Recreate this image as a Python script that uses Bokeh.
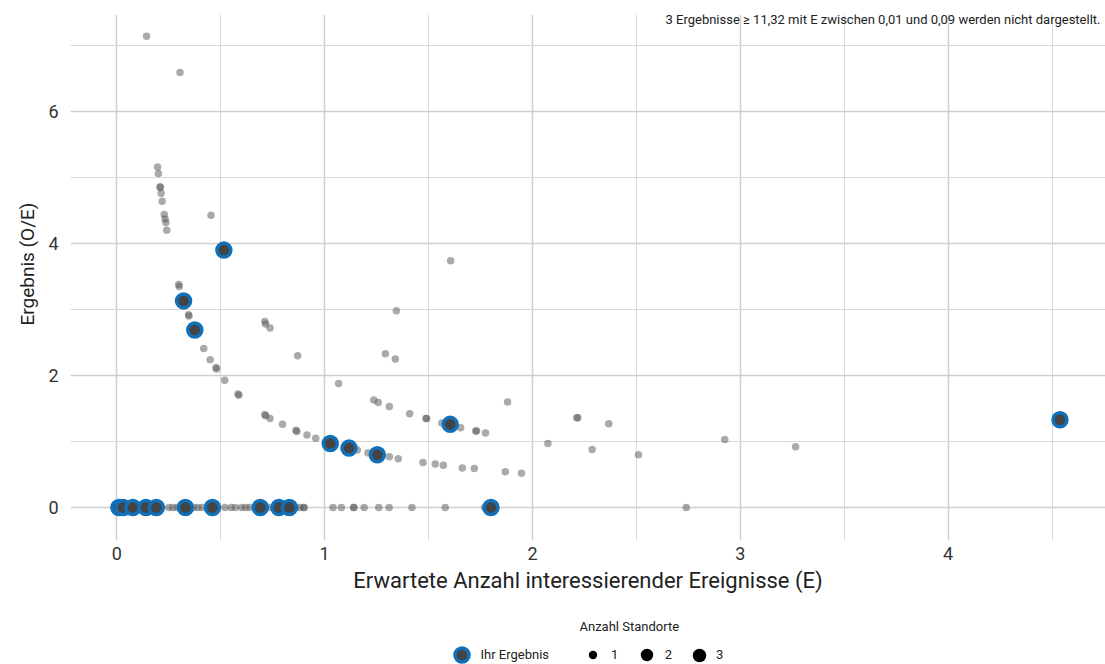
from bokeh.plotting import figure
from bokeh.layouts import column
from bokeh.models import (ColumnDataSource, FixedTicker, Range1d, Legend,
                          LegendItem, Label, Title)
from bokeh.embed import file_html
from bokeh.resources import INLINE

FONT = "Roboto"
NAN = float("nan")

# Alle Standorte: erwartete Anzahl (E) und Ergebnis (O/E)
alle_e = [0.143, 0.304, 0.196, 0.200, 0.208, 0.209, 0.213, 0.218, 0.228, 0.232,
          0.236, 0.240, 0.453,
          0.298, 0.300, 0.345, 0.347, 0.418, 0.449, 0.477, 0.480, 0.519, 0.583,
          0.587, 0.712, 0.716, 0.737, 0.797, 0.862, 0.866, 0.712, 0.716, 0.737,
          0.870, 1.067,
          1.606, 1.345, 1.292, 1.340, 1.236, 1.258, 1.311, 1.409, 1.487, 1.491,
          1.564, 1.654, 1.727, 1.731, 1.774, 1.880, 2.213, 2.218, 2.074, 0.915,
          0.957, 1.157, 1.208, 1.311, 1.354, 1.473, 1.532, 1.571, 1.662, 1.720,
          1.869, 1.947,
          2.367, 2.287, 2.510, 2.925, 3.266,
          0.05, 0.11, 0.25, 0.27, 0.29, 0.37, 0.39, 0.41, 0.52, 0.55, 0.57,
          0.60, 0.62, 0.64, 0.73, 0.86, 0.88, 0.90, 0.90, 1.04, 1.08, 1.14,
          1.14, 1.19, 1.26, 1.31, 1.42, 1.58, 1.77, 2.74]
alle_oe = [7.14, 6.59, 5.16, 5.06, 4.86, 4.85, 4.76, 4.64, 4.44, 4.37,
           4.32, 4.20, 4.43,
           3.38, 3.35, 2.92, 2.90, 2.41, 2.24, 2.12, 2.10, 1.93, 1.72,
           1.70, 1.41, 1.39, 1.35, 1.26, 1.17, 1.15, 2.82, 2.78, 2.72,
           2.30, 1.88,
           3.74, 2.98, 2.33, 2.25, 1.63, 1.59, 1.53, 1.42, 1.35, 1.35,
           1.28, 1.21, 1.16, 1.16, 1.13, 1.60, 1.36, 1.36, 0.97, 1.10,
           1.05, 0.87, 0.83, 0.77, 0.74, 0.68, 0.66, 0.64, 0.60, 0.59,
           0.54, 0.52,
           1.27, 0.88, 0.80, 1.03, 0.92,
           0, 0, 0, 0, 0, 0, 0, 0, 0, 0, 0,
           0, 0, 0, 0, 0, 0, 0, 0, 0, 0, 0,
           0, 0, 0, 0, 0, 0, 0, 0]

# Eigene Standorte
ihr_e = [0.515, 0.321, 0.375, 1.027, 1.117, 1.253, 1.604, 4.538,
         0.01, 0.03, 0.077, 0.14, 0.19, 0.33, 0.46, 0.69, 0.78, 0.83, 1.80]
ihr_oe = [3.90, 3.13, 2.69, 0.97, 0.90, 0.80, 1.26, 1.33,
          0, 0, 0, 0, 0, 0, 0, 0, 0, 0, 0]

# Achsen
x_major = [0, 1, 2, 3, 4]
x_minor = [0.5, 1.5, 2.5, 3.5, 4.5]
y_major = [0, 2, 4, 6]
y_minor = [1, 3, 5, 7]

# Größenlegende
standorte_labels = ["1", "2", "3"]
standorte_sizes = [8.4, 12.4, 13.6]

IHR_FILL = "#444444"
IHR_LINE = "#1170B8"
IHR_SIZE = 14
IHR_LW = 3.5
FRAME_LEFT = 70

p = figure(width=1105, height=604,
           x_range=Range1d(-0.223, 4.757), y_range=Range1d(-0.5, 7.47),
           output_backend="svg", toolbar_location=None,
           min_border_left=FRAME_LEFT, min_border_right=0,
           min_border_top=14, min_border_bottom=64)
p.outline_line_color = None
p.background_fill_color = "white"
p.border_fill_color = "white"

xt = FixedTicker(ticks=x_major, minor_ticks=x_minor)
yt = FixedTicker(ticks=y_major, minor_ticks=y_minor)
p.xaxis.ticker = xt
p.yaxis.ticker = yt
p.xgrid.ticker = xt
p.ygrid.ticker = yt
for g in (p.xgrid, p.ygrid):
    g.grid_line_color = "#cfcfcf"
    g.grid_line_width = 1.5
    g.minor_grid_line_color = "#d9d9d9"
    g.minor_grid_line_width = 1

for ax in (p.xaxis, p.yaxis):
    ax.axis_line_color = None
    ax.major_tick_line_color = None
    ax.minor_tick_line_color = None
    ax.major_tick_out = 0
    ax.major_tick_in = 0
    ax.major_label_text_font = FONT
    ax.major_label_text_font_size = "18px"
    ax.major_label_text_color = "#333333"
    ax.axis_label_text_font = FONT
    ax.axis_label_text_font_style = "normal"
    ax.axis_label_text_color = "#222222"

p.xaxis.axis_label = "Erwartete Anzahl interessierender Ereignisse (E)"
p.xaxis.axis_label_text_font_size = "22px"
p.xaxis.major_label_standoff = 2
p.xaxis.axis_label_standoff = 5
p.yaxis.major_label_standoff = 8

# y-Achsentitel als Titel am linken Rand, leicht oberhalb der Mitte
p.add_layout(Title(text="Ergebnis (O/E)", align="left", offset=215, standoff=14,
                   text_font=FONT, text_font_size="19px",
                   text_font_style="normal", text_color="#222222"), "left")

src_alle = ColumnDataSource(dict(e=alle_e, oe=alle_oe))
src_ihr = ColumnDataSource(dict(e=ihr_e, oe=ihr_oe))

p.scatter("e", "oe", source=src_alle, size=7.5, fill_color="#555555",
          fill_alpha=0.5, line_color=None)
p.scatter("e", "oe", source=src_ihr, size=IHR_SIZE, fill_color=IHR_FILL,
          line_color=IHR_LINE, line_width=IHR_LW)

note = Label(x=1030, y=521, x_units="screen", y_units="screen",
             text="3 Ergebnisse \u2265 11,32 mit E zwischen 0,01 und 0,09 werden nicht dargestellt.",
             text_align="right", text_baseline="middle",
             text_font=FONT, text_font_size="13px", text_color="#222222")
p.add_layout(note)

# Legendenleiste unter dem Diagramm (Rahmen wird an der Hauptgrafik ausgerichtet)
lg = figure(width=1105, height=60, x_range=Range1d(0, 1), y_range=Range1d(0, 1),
            output_backend="svg", toolbar_location=None,
            x_axis_location=None, y_axis_location=None, min_border=0)
lg.outline_line_color = None
lg.grid.visible = False
lg.border_fill_color = "white"


def styled_legend(items, cx, box, standoff):
    return Legend(items=items, location=(cx - FRAME_LEFT - box / 2, 9.5 - box / 2),
                  orientation="horizontal",
                  glyph_width=box, glyph_height=box, label_standoff=standoff,
                  padding=0, margin=0, spacing=0,
                  border_line_color=None, background_fill_alpha=0,
                  label_text_font=FONT, label_text_font_size="13px",
                  label_text_color="#222222", label_height=box)


# Legendensymbole: Renderer ohne darstellbare Punkte
key_ihr = lg.scatter(x=[NAN], y=[NAN], size=IHR_SIZE, fill_color=IHR_FILL,
                     line_color=IHR_LINE, line_width=IHR_LW)
box_ihr = int(round(IHR_SIZE / 0.4))
lg.add_layout(styled_legend([LegendItem(label="Ihr Ergebnis", renderers=[key_ihr])],
                            461, box_ihr, 2))

size_cx = [592.5, 646.2, 699.0]
standoffs = [8, 3, -2]
for lab, s, cx, so in zip(standorte_labels, standorte_sizes, size_cx, standoffs):
    box = int(round(s / 0.4))
    key = lg.scatter(x=[NAN], y=[NAN], size=s, fill_color="black", line_color=None)
    lg.add_layout(styled_legend([LegendItem(label=lab, renderers=[key])],
                                cx, box, so))

lg.add_layout(Label(x=579 - FRAME_LEFT, y=38, x_units="screen", y_units="screen",
                    text="Anzahl Standorte", text_align="left",
                    text_baseline="middle", text_font=FONT,
                    text_font_size="13px", text_color="#222222"))

layout = column(p, lg, spacing=0)
open("out.html", "w").write(file_html(layout, INLINE))
